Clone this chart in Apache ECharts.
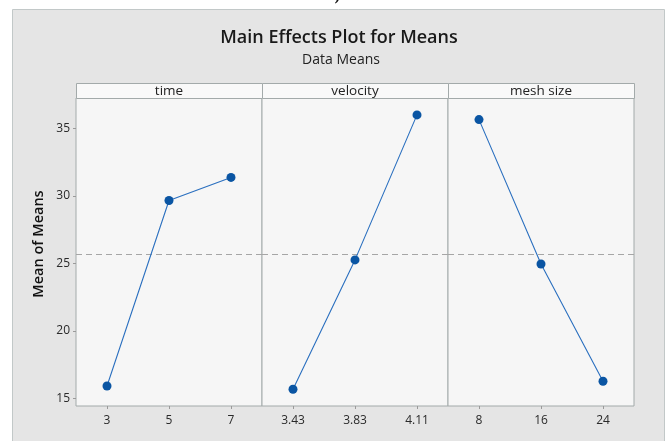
<!DOCTYPE html>
<html>
<head>
<meta charset="utf-8">
<script src="https://cdn.jsdelivr.net/npm/echarts@6/dist/echarts.min.js"></script>
<style>
html,body{margin:0;padding:0;background:#ffffff;}
#chart{width:668px;height:441px;}
</style>
</head>
<body>
<div id="chart"></div>
<script>
// ---- data ----
const factorNames = ['time', 'velocity', 'mesh size'];
const timeLevels = ['3', '5', '7'];
const timeMeans = [15.91, 29.65, 31.36];
const velocityLevels = ['3.43', '3.83', '4.11'];
const velocityMeans = [15.67, 25.25, 35.99];
const meshLevels = ['8', '16', '24'];
const meshMeans = [35.64, 24.95, 16.26];
const grandMean = 25.68;
const yTicks = [15, 20, 25, 30, 35];

const levelsList = [timeLevels, velocityLevels, meshLevels];
const meansList = [timeMeans, velocityMeans, meshMeans];

const panelLeft = 76, panelW = 186, plotTop = 98, plotH = 308, stripTop = 83;
const yMin = 14.43, yMax = 37.24;
const fontFam = '"Open Sans", "Noto Sans", sans-serif';

const grids = [], xAxes = [], yAxes = [], series = [], graphics = [];

// outer frame
graphics.push({type:'rect', shape:{x:12.5, y:9.5, width:652, height:440}, style:{fill:'#e5e5e5', stroke:'#c2c8c8', lineWidth:1}, z:-10});
// "a)" cut-off caption
graphics.push({type:'text', left:326, top:-13, style:{text:'a)', font:'bold 17px "Liberation Serif", serif', fill:'#111'}});

for (let i = 0; i < 3; i++) {
  const left = panelLeft + panelW * i;
  grids.push({left:left, top:plotTop, width:panelW, height:plotH, show:true, backgroundColor:'#f6f6f6', borderColor:'#a3aaaa', borderWidth:1});
  xAxes.push({
    type:'category', gridIndex:i, data:levelsList[i], boundaryGap:true,
    axisLine:{show:false},
    axisTick:{show:true, alignWithLabel:true, length:3, lineStyle:{color:'#9a9a9a'}},
    axisLabel:{color:'#2a2a2a', fontSize:12, fontFamily:fontFam, margin:9}
  });
  yAxes.push({
    type:'value', gridIndex:i, min:yMin, max:yMax,
    splitLine:{show:false}, axisLine:{show:false},
    axisTick:{show:i===0, length:3, lineStyle:{color:'#9a9a9a'}, customValues:yTicks},
    axisLabel:{show:i===0, color:'#2a2a2a', fontSize:12, fontFamily:fontFam, margin:6, customValues:yTicks}
  });
  series.push({
    type:'line', xAxisIndex:i, yAxisIndex:i, data:meansList[i],
    symbol:'circle', symbolSize:9,
    lineStyle:{color:'#2a6fbf', width:1.1},
    itemStyle:{color:'#0a55a3'},
    markLine:{
      silent:true, symbol:['none','none'], label:{show:false},
      lineStyle:{color:'#a6a6a6', type:[6,4], width:1.2},
      data:[{yAxis:grandMean}]
    },
    z:5
  });
  // strip
  graphics.push({type:'rect', shape:{x:left+0.5, y:stripTop+0.5, width:panelW, height:plotTop-stripTop}, style:{fill:'#f9f9f9', stroke:'#a3aaaa', lineWidth:1}, z:1});
  graphics.push({type:'text', x:left + panelW/2, y:stripTop + (plotTop-stripTop)/2 + 0.5,
    style:{text:factorNames[i], align:'center', verticalAlign:'middle', font:'13.5px ' + fontFam, fill:'#222'}, z:2});
}

// y axis name
graphics.push({type:'text', x:39, y:244, rotation:Math.PI/2,
  style:{text:'Mean of Means', align:'center', verticalAlign:'middle', font:'600 14.5px ' + fontFam, fill:'#111'}});

// titles
graphics.push({type:'text', x:339, y:38, style:{text:'Main Effects Plot for Means', align:'center', verticalAlign:'middle', font:'600 18px ' + fontFam, fill:'#1a1a1a'}});
graphics.push({type:'text', x:341, y:60, style:{text:'Data Means', align:'center', verticalAlign:'middle', font:'500 14px ' + fontFam, fill:'#222'}});

const chart = echarts.init(document.getElementById('chart'), null, {renderer:'canvas'});
chart.setOption({
  animation:false,
  backgroundColor:'#ffffff',
  grid:grids, xAxis:xAxes, yAxis:yAxes, series:series,
  graphic:graphics
});
</script>
</body>
</html>
